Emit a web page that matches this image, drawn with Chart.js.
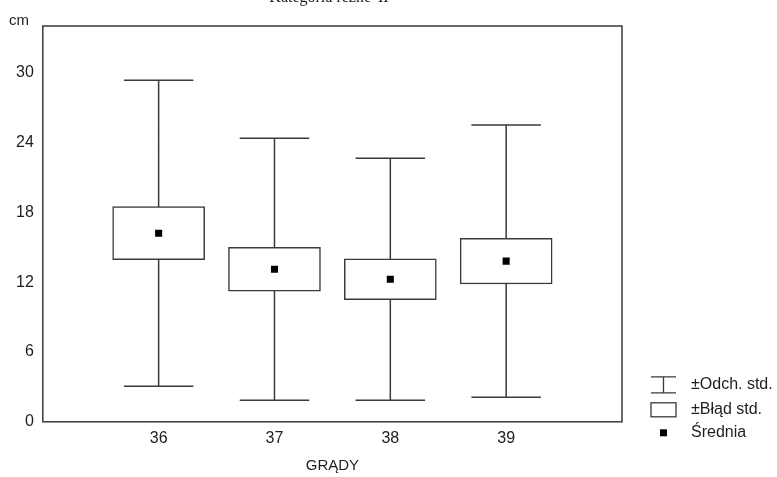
<!DOCTYPE html>
<html>
<head>
<meta charset="utf-8">
<script src="https://cdn.jsdelivr.net/npm/chart.js@4/dist/chart.umd.min.js"></script>
<style>
  html, body { margin: 0; padding: 0; background: #fff; }
</style>
</head>
<body>
<canvas id="chart" width="777" height="477"></canvas>
<script>
// values (cm)
const grades = [36, 37, 38, 39];
const means = [16.2, 13.1, 12.25, 13.8];
const stdErr = [2.28, 1.88, 1.76, 1.96];
const stdDev = [13.15, 11.25, 10.4, 11.7];
const yTicks = [0, 6, 12, 18, 24, 30];
const legendLabels = ["±Odch. std.", "±Błąd std.", "Średnia"];
const titleText = "Kategoria rezne 'II'";
const yUnit = "cm";
const xTitle = "GRĄDY";

const ink = "#3a3a3a";
const textColor = "#1e1e1e";
const sans = "'Liberation Sans', Arial, sans-serif";
const capHalf = 0.3; // half width of whisker caps, in x units

// whisker stems and caps as one broken line
const whiskers = [];
grades.forEach((g, i) => {
    const lo = means[i] - stdDev[i];
    const hi = means[i] + stdDev[i];
    whiskers.push({ x: g, y: lo }, { x: g, y: hi }, { x: g, y: null });
    whiskers.push({ x: g - capHalf, y: hi }, { x: g + capHalf, y: hi }, { x: g, y: null });
    whiskers.push({ x: g - capHalf, y: lo }, { x: g + capHalf, y: lo }, { x: g, y: null });
});

// frame, title, unit label and legend
const decorations = {
    id: "decorations",
    beforeDatasetsDraw(chart) {
        const { ctx, chartArea: a } = chart;
        ctx.save();
        ctx.strokeStyle = ink;
        ctx.lineWidth = 1.5;
        ctx.strokeRect(a.left, a.top, a.right - a.left, a.bottom - a.top);
        ctx.restore();
    },
    afterDraw(chart) {
        const { ctx, chartArea: a } = chart;
        ctx.save();
        ctx.fillStyle = textColor;
        ctx.font = "16px 'Liberation Serif', serif";
        ctx.textAlign = "center";
        ctx.textBaseline = "alphabetic";
        ctx.fillText(titleText, (a.left + a.right) / 2 - 2, 2);

        ctx.font = "15px " + sans;
        ctx.textAlign = "left";
        ctx.fillText(yUnit, 9, 25);

        // legend
        const sx = a.right + 29, sw = 25, tx = a.right + 69;
        const rows = [a.bottom - 37, a.bottom - 12, a.bottom + 11];
        ctx.strokeStyle = ink;
        ctx.lineWidth = 1.3;
        // I-beam for std dev
        ctx.beginPath();
        ctx.moveTo(sx, rows[0] - 8); ctx.lineTo(sx + sw, rows[0] - 8);
        ctx.moveTo(sx, rows[0] + 8); ctx.lineTo(sx + sw, rows[0] + 8);
        ctx.moveTo(sx + sw / 2, rows[0] - 8); ctx.lineTo(sx + sw / 2, rows[0] + 8);
        ctx.stroke();
        // box for std err
        ctx.strokeRect(sx, rows[1] - 7, sw, 14);
        // mean marker
        ctx.fillStyle = "#000";
        ctx.fillRect(sx + sw / 2 - 3.5, rows[2] - 3.5, 7, 7);

        ctx.fillStyle = textColor;
        ctx.font = "16px " + sans;
        ctx.textBaseline = "middle";
        legendLabels.forEach((t, i) => ctx.fillText(t, tx, rows[i]));
        ctx.restore();
    }
};

const ctx = document.getElementById("chart").getContext("2d");

new Chart(ctx, {
    data: {
        datasets: [
            {
                type: "scatter",
                label: legendLabels[2],
                data: grades.map((g, i) => ({ x: g, y: means[i] })),
                pointStyle: "rect",
                pointRadius: 5,
                backgroundColor: "#000",
                borderWidth: 0,
                order: 0
            },
            {
                type: "bar",
                label: legendLabels[1],
                data: grades.map((g, i) => ({ x: g, y: [means[i] - stdErr[i], means[i] + stdErr[i]] })),
                backgroundColor: "#fff",
                borderColor: ink,
                borderWidth: 1.5,
                borderSkipped: false,
                barThickness: 92,
                order: 1
            },
            {
                type: "line",
                label: legendLabels[0],
                data: whiskers,
                borderColor: ink,
                borderWidth: 1.5,
                pointRadius: 0,
                spanGaps: false,
                tension: 0,
                order: 2
            }
        ]
    },
    options: {
        responsive: false,
        animation: false,
        events: [],
        devicePixelRatio: 1,
        layout: { padding: { top: 26, right: 155, bottom: 2, left: 7 } },
        plugins: {
            legend: { display: false },
            tooltip: { enabled: false }
        },
        scales: {
            x: {
                type: "linear",
                min: 35,
                max: 40,
                offset: false,
                afterBuildTicks: s => { s.ticks = grades.map(v => ({ value: v })); },
                grid: { display: false, drawTicks: false, tickLength: 0 },
                border: { display: false },
                ticks: { color: textColor, padding: 7, font: { family: sans, size: 16 } },
                title: {
                    display: true,
                    text: xTitle,
                    color: textColor,
                    font: { family: sans, size: 15 },
                    padding: { top: 2, bottom: 0 }
                }
            },
            y: {
                min: 0,
                max: 34,
                afterBuildTicks: s => { s.ticks = yTicks.map(v => ({ value: v })); },
                grid: { display: false, drawTicks: false, tickLength: 0 },
                border: { display: false },
                ticks: { color: textColor, padding: 9, font: { family: sans, size: 16 } }
            }
        }
    },
    plugins: [decorations]
});
</script>
</body>
</html>
